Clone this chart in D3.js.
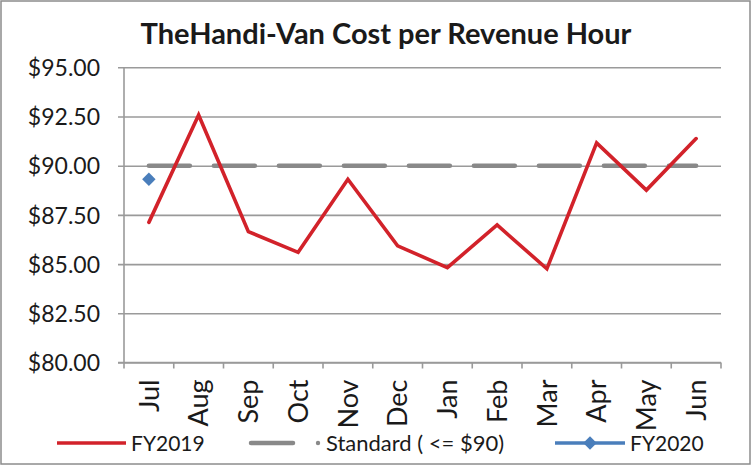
<!DOCTYPE html>
<html><head><meta charset="utf-8">
<script src="https://cdn.jsdelivr.net/npm/d3@7"></script>
<style>body{margin:0;background:#fff}svg{display:block}text{font-family:Lato,"Open Sans",sans-serif;fill:#1a1a1a}</style>
</head><body>
<svg id="c" width="751" height="465"></svg>
<script>
const months = ["Jul","Aug","Sep","Oct","Nov","Dec","Jan","Feb","Mar","Apr","May","Jun"];
const fy2019 = [87.12, 92.58, 86.65, 85.6, 89.31, 85.93, 84.82, 86.99, 84.76, 91.16, 88.76, 91.38];
const standard = [90,90,90,90,90,90,90,90,90,90,90,90];
const fy2020 = [89.31];
const yTicks = [80, 82.5, 85, 87.5, 90, 92.5, 95];
const title = "TheHandi-Van Cost per Revenue Hour";
const seriesNames = ["FY2019", "Standard ( <= $90)", "FY2020"];

const svg = d3.select("#c");
const W = 751, H = 465;
const red = "#d2222a", gray = "#898989", blue = "#4a7ebb", grid = "#9a9a9a";

svg.append("rect").attr("x",1).attr("y",1).attr("width",W-2).attr("height",H-2)
  .attr("fill","#fff").attr("stroke","#8c8c8c").attr("stroke-width",1.5);

const x = d3.scaleBand().domain(months).range([124, 721]).padding(0);
const y = d3.scaleLinear().domain([80, 95]).range([362.5, 67.3]);
const cx = m => x(m) + x.bandwidth()/2;

svg.append("text").attr("x", 386).attr("y", 44).attr("text-anchor","middle")
  .style("font-weight","bold").style("font-size","29px").text(title);

// gridlines
const yAxis = d3.axisLeft(y).tickValues(yTicks).tickSize(-(721-124)).tickFormat(d => "$" + d3.format(".2f")(d)).tickPadding(16);
const gy = svg.append("g").attr("transform","translate(124,0)").call(yAxis);
gy.select(".domain").remove();
gy.selectAll(".tick line").attr("stroke",grid).attr("stroke-width",1.6).attr("x1",-6);
gy.selectAll(".tick text").style("font-size","23px").attr("fill","#1a1a1a").attr("x",-24).attr("dy","0.36em");

// y axis line
svg.append("line").attr("x1",124).attr("x2",124).attr("y1",y(95)).attr("y2",y(80)).attr("stroke",grid).attr("stroke-width",1.6);

// x axis
const xAxis = d3.axisBottom(x).tickSize(0).tickFormat("");
const gx = svg.append("g").attr("transform",`translate(0,${y(80)})`).call(xAxis);
gx.select(".domain").remove();
svg.append("line").attr("x1",118).attr("x2",721).attr("y1",y(80)).attr("y2",y(80)).attr("stroke",grid).attr("stroke-width",1.6);
const bounds = months.map(m => x(m)).concat([x(months[11]) + x.bandwidth()]);
svg.selectAll(".xt").data(bounds).enter().append("line")
  .attr("x1",d=>d).attr("x2",d=>d).attr("y1",y(80)).attr("y2",y(80)+6).attr("stroke",grid).attr("stroke-width",1.6);
svg.selectAll(".xl").data(months).enter().append("text")
  .attr("transform", m => `translate(${cx(m)},${y(80)+17}) rotate(-90)`)
  .attr("text-anchor","end").attr("dy","0.36em").style("font-size","27px").text(d=>d);

// standard
const line = d3.line().x((d,i)=>cx(months[i])).y(d=>y(d));
svg.append("path").datum(standard).attr("d",line).attr("fill","none").attr("stroke",gray)
  .attr("stroke-width",4.5).attr("stroke-linecap","round").attr("stroke-dasharray","41,24");

// fy2019
svg.append("path").datum(fy2019).attr("d",line).attr("fill","none").attr("stroke",red)
  .attr("stroke-width",3.6).attr("stroke-linejoin","miter").attr("stroke-linecap","round");

// fy2020
const diamond = d3.symbol().type(d3.symbolDiamond2).size(115);
svg.selectAll(".d20").data(fy2020).enter().append("path")
  .attr("d", diamond).attr("transform",(d,i)=>`translate(${cx(months[i])},${y(d)})`).attr("fill",blue);

// legend
const ly = 443;
const lg = svg.append("g");
lg.append("line").attr("x1",57).attr("x2",126).attr("y1",ly).attr("y2",ly).attr("stroke",red).attr("stroke-width",3.6);
lg.append("text").attr("x",131).attr("y",ly).attr("dy","0.36em").style("font-size","21px").text(seriesNames[0]);
lg.append("line").attr("x1",251).attr("x2",293).attr("y1",ly).attr("y2",ly).attr("stroke",gray).attr("stroke-width",4.5).attr("stroke-linecap","round");
lg.append("circle").attr("cx",318).attr("cy",ly).attr("r",2.2).attr("fill",gray);
lg.append("text").attr("x",326).attr("y",ly).attr("dy","0.36em").style("font-size","22px").text(seriesNames[1]);
lg.append("line").attr("x1",555).attr("x2",625).attr("y1",ly).attr("y2",ly).attr("stroke",blue).attr("stroke-width",3.6);
lg.append("path").attr("d",diamond).attr("transform",`translate(590,${ly})`).attr("fill",blue);
lg.append("text").attr("x",630).attr("y",ly).attr("dy","0.36em").style("font-size","21px").text(seriesNames[2]);
</script>
</body></html>
